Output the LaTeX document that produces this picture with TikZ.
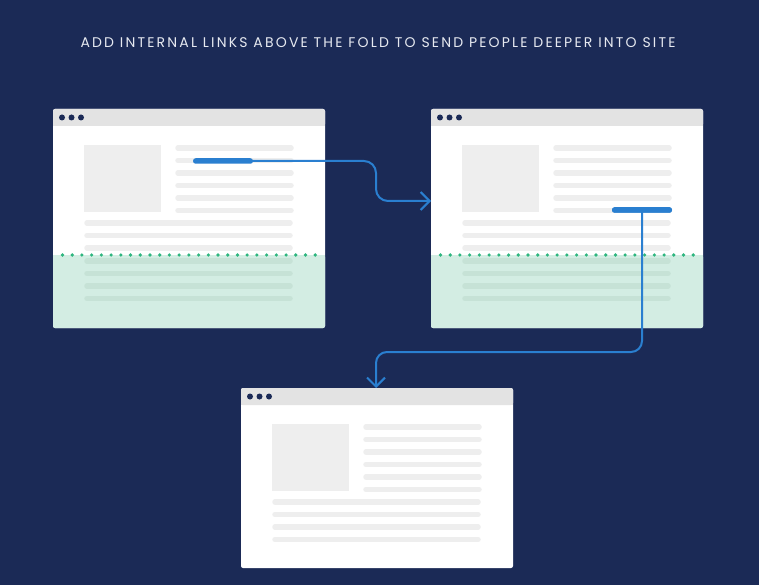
\documentclass[tikz,border=0pt]{standalone}
\usepackage{fontspec}
\setmainfont{Poppins}
\usetikzlibrary{arrows.meta}
\definecolor{navy}{HTML}{1B2A56}
\definecolor{linkblue}{HTML}{2A7FD0}
\definecolor{barcol}{HTML}{E3E3E3}
\definecolor{ph}{HTML}{EEEEEE}
\definecolor{fold}{HTML}{D3EDE3}
\definecolor{foldline}{HTML}{C6E2D6}
\definecolor{dotcol}{HTML}{2EB67F}
\definecolor{titlecol}{HTML}{E6E9F0}
\tikzset{
  win/.style={fill=white, rounded corners=2pt, anchor=north west, minimum width=272pt, inner sep=0pt, outer sep=0pt},
  txtline/.style={line width=5.5pt, line cap=round, draw=ph},
  linkbar/.style={fill=linkblue, rounded corners=2.6pt, minimum height=5.5pt, inner sep=0pt, outer sep=0pt},
  connector/.style={draw=linkblue, line width=2pt, rounded corners=12pt},
  tip/.style={-{Straight Barb[length=9pt,width=18pt,line width=2pt]}}
}
\newcommand\browserwin[5]{% name, x, y, height, fold
  \node[win, minimum height=#4pt] (#1) at (#2,#3) {};
  \begin{scope}[shift={(#1.north west)}]
    \fill[barcol,rounded corners=2pt] (0,0) rectangle (272,17);
    \fill[barcol] (0,9) rectangle (272,17);
    \foreach \dx in {9,18.5,28} \fill[navy] (\dx,8.5) circle (3);
    \ifnum#5=1
      \fill[fold,rounded corners=2pt] (0,146) rectangle (272,219);
      \fill[fold] (0,146) rectangle (272,152);
    \fi
    \fill[ph] (31,36) rectangle (108,103);
    \foreach \yy in {39,51.5,64,76.5,89,101.5} \draw[txtline] (125,\yy) -- (238,\yy);
    \foreach \yy in {114,126.5,139} \draw[txtline] (34,\yy) -- (237,\yy);
    \ifnum#5=1
      \foreach \yy in {152,164.5,177,189.5} \draw[txtline,draw=foldline] (34,\yy) -- (237,\yy);
      \foreach \i in {0,...,26} \fill[dotcol] (9.5+\i*9.72,146) circle (1.8);
    \else
      \draw[txtline] (34,151.5) -- (237,151.5);
    \fi
  \end{scope}}
\begin{document}
\begin{tikzpicture}[x=1pt,y=-1pt]
  \useasboundingbox (0,0) rectangle (759,585);
  \fill[navy] (0,0) rectangle (759,585);
  \node[text=titlecol, font=\fontsize{14}{16}\selectfont\addfontfeatures{LetterSpace=15.5}] (title) at (378,43) {ADD INTERNAL LINKS ABOVE THE FOLD TO SEND PEOPLE DEEPER INTO SITE};
  \browserwin{w1}{53}{109}{219}{1}
  \browserwin{w2}{431}{109}{219}{1}
  \browserwin{w3}{241}{388}{180}{0}
  \coordinate (b1) at (376,181);
  \coordinate (b2) at (376,352);
  \node[linkbar, minimum width=60pt] (l1) at (223,161) {};
  \node[linkbar, minimum width=60pt] (l2) at (642,210) {};
  \draw[connector,tip] (l1.east) -- (b1 |- l1.east) -- (b1 |- 0,201) -- (w2.west |- 0,201);
  \draw[connector,tip,rounded corners=11pt] (l2.center) -- (l2.center |- b2) -- (b2) -- (b2 |- w3.north);
  \node[linkbar, minimum width=60pt] at (l2.center) {};
\end{tikzpicture}
\end{document}
